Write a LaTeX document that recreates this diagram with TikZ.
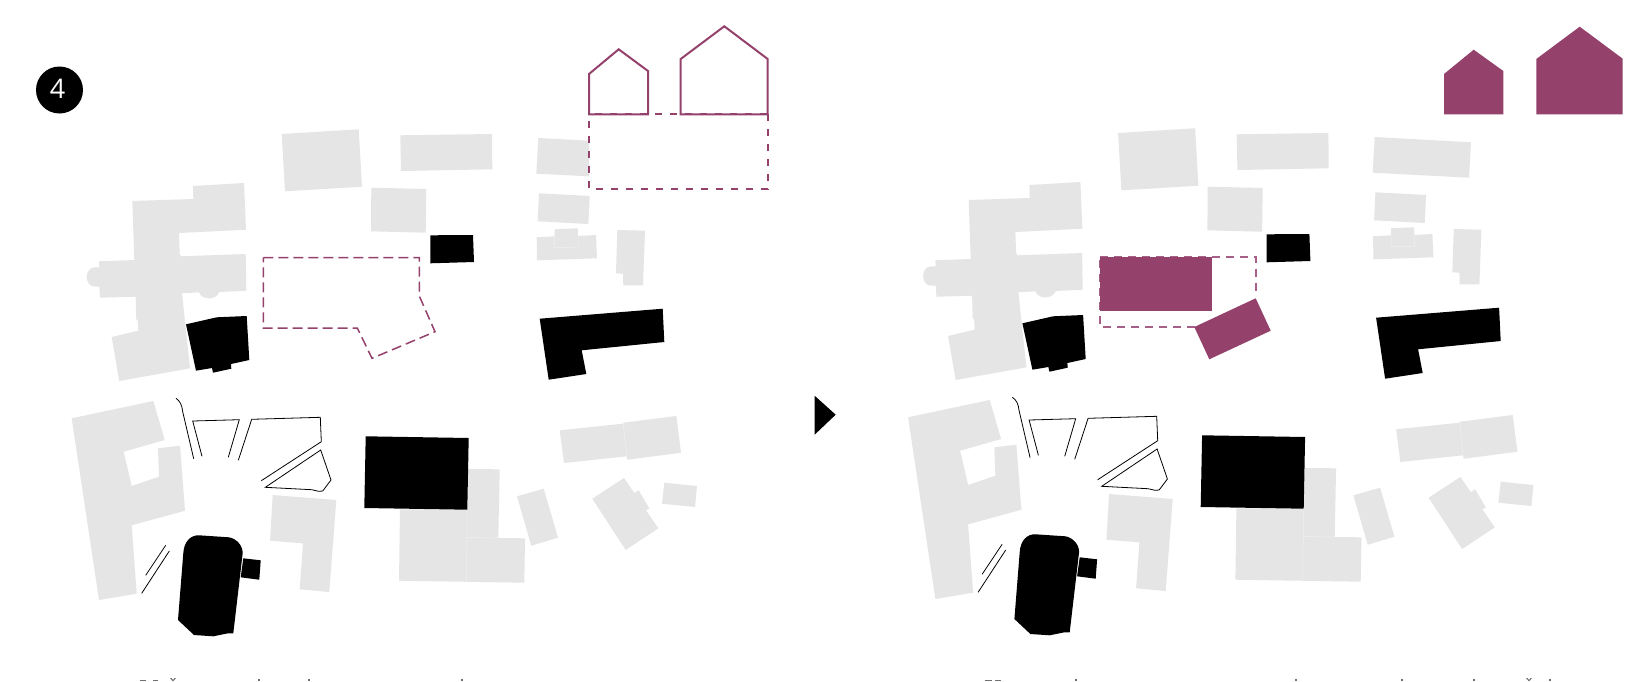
\documentclass[tikz,border=0pt]{standalone}
\usepackage{fontspec}
\setmainfont{Open Sans}
\definecolor{plum}{HTML}{94416C}
\definecolor{plumlight}{HTML}{A65F86}
\definecolor{bldggray}{HTML}{E5E5E5}
\definecolor{seamgray}{HTML}{F0F0F0}
\definecolor{frag}{HTML}{707070}
\tikzset{
  greybldg/.style={fill=bldggray,draw=none},
  blackbldg/.style={fill=black,draw=none},
  thinline/.style={draw=black,line width=0.8pt,line join=miter},
  seam/.style={draw=seamgray,line width=0.5pt},
  siteleft/.style={draw=plum,line width=1.5pt,dash pattern=on 10pt off 5pt},
  siteupper/.style={draw=plum,line width=2.1pt,dash pattern=on 7pt off 8pt},
  siteright/.style={draw=plumlight,line width=1.9pt,dash pattern=on 8pt off 6pt},
  houseline/.style={draw=plum,line width=2pt,line join=miter},
  plumfill/.style={fill=plum,draw=none},
  fragment/.style={fill=frag,draw=none}
}
% geometry common to both plans
\newcommand{\sharedplan}{%
  % upper row
  \path[greybldg] (281.7,134) -- (358.7,129.3) -- (362,186.7) -- (285,191.3) -- cycle;
  \path[greybldg] (400.3,135.3) -- (492,134) -- (492.3,169.3) -- (401,171) -- cycle;
  \path[greybldg] (371.3,187.7) -- (426.3,189) -- (425.7,232.7) -- (371,231.3) -- cycle;
  % large complex
  \path[greybldg] (193,186) -- (244,183) -- (246,229.7) -- (179,233) -- (179.7,254) -- (181,256.3)
    -- (245.7,254) -- (246.3,290.7) -- (219.3,292) .. controls (216,300.5) and (202,300.5) .. (199,292.3)
    -- (182,293.3) -- (190,368.3) -- (119.3,381) -- (111.7,337) -- (138.3,330.7) -- (137.7,320.3)
    -- (136.3,320) -- (135.7,296.7) -- (100,297.7) -- (99.3,286.7) -- (95,286.7)
    .. controls (90,286.7) and (86.7,282) .. (86.7,277) .. controls (86.7,272) and (90,267.3) .. (95,267.3)
    -- (99.3,267.3) -- (99,261.3) -- (134.3,260)
    -- (132.3,201) -- (193.3,199) -- cycle;
  % small row right
  \path[greybldg] (539,193.3) -- (589.7,196) -- (588.3,224) -- (537.7,221.3) -- cycle;
  \path[greybldg] (536.7,237.3) -- (554.7,236.3) -- (554.7,229.3) -- (577.7,228.3) -- (578,236)
    -- (596,235) -- (597,258.3) -- (537,260.3) -- cycle;
  \draw[seam] (554.7,236.3) -- (554.7,247.5) -- (578,247.2) -- (578,236);
  \path[greybldg] (617.3,230) -- (645,230.7) -- (643,285.3) -- (623.3,285.3) -- (623,273.7) -- (616,273.3) -- cycle;
  % lower-left wing
  \path[greybldg] (71.7,418.3) -- (153.3,401) -- (164.7,440) -- (123.7,451.7) -- (131.7,486)
    -- (159,476.7) -- (158,448.3) -- (180,445.7) -- (185,510.7) -- (131.7,525.3) -- (136.7,593.7) -- (99,600) -- cycle;
  \path[greybldg] (272.7,495) -- (336.3,500) -- (329.3,592) -- (299.7,589.3) -- (303,543.3) -- (270,540.7) -- cycle;
  % lower middle
  \path[greybldg] (468,469) -- (499.7,469.3) -- (498.3,538) -- (525,538.3) -- (524.3,582.7)
    -- (399,580.7) -- (400,509.3) -- (467.3,509.7) -- cycle;
  \draw[seam] (467.3,509.7) -- (466.3,582);
  \draw[seam] (467,537.5) -- (498.3,538);
  \path[greybldg] (517,496.3) -- (543.7,488.7) -- (558,537.7) -- (531.3,545.7) -- cycle;
  \path[greybldg] (559.7,430.3) -- (623,423.7) -- (623.6,422.7) -- (676.3,416) -- (681,452.7) -- (627.6,459.7) -- (626.3,456.3) -- (564,463) -- cycle;
  \draw[seam] (623.3,423.5) -- (626.8,457.5);
  \path[greybldg] (592.3,498.7) -- (624,478) -- (634.3,493) -- (638.7,490.3) -- (649.3,508.3)
    -- (646,510.3) -- (658.3,528.3) -- (625.7,550) -- cycle;
  \path[greybldg] (664.3,482.7) -- (697,486) -- (695,507) -- (662,503.7) -- cycle;
  % black buildings
  \path[blackbldg] (186,324.3) -- (216.7,317.3) -- (246.7,316) -- (249.3,360) -- (231,364) -- (231.3,368.7)
    -- (213,372.7) -- (212,368) -- (196,370.7) -- cycle;
  \path[blackbldg] (430.3,235.3) -- (473,235) -- (474,262) -- (430.3,263.3) -- cycle;
  \path[blackbldg] (539.7,318.7) -- (662.7,308.7) -- (664.3,342) -- (581.7,350.3) -- (586.3,374) -- (548.7,379.7) -- cycle;
  \path[blackbldg] (365.7,436.3) -- (468.7,438) -- (467.3,509.7) -- (364.3,508) -- cycle;
  \path[blackbldg] (183.3,553.3) .. controls (184,541) and (191,535) .. (199,535.3)
    -- (229,537.3) .. controls (236,538.5) and (242.7,545) .. (242.7,553)
    -- (233.3,633.3) -- (228,633.3) -- (213.3,636.3) -- (194,635) -- (178,620) -- cycle;
  \path[blackbldg] (243.3,558.3) -- (260.7,560.3) -- (259.3,579.7) -- (240.7,577.3) -- cycle;
  % outlines of the courtyard
  \draw[thinline] (176,398.3) .. controls (180,401) and (182,405) .. (182.7,411.7) -- (193.7,458.7);
  \draw[thinline] (202,456.3) -- (192.7,421) -- (239.3,419.7) -- (228.3,457.3);
  \draw[thinline] (238.3,460.3) -- (251.7,419.3) -- (320.3,417.3) -- (321.3,441.7) -- (261.3,480.7);
  \draw[thinline] (320.7,450) -- (331,480) -- (322.7,491) -- (318.7,491.3) -- (311.7,489.7) -- (265.3,487.3) -- cycle;
  \draw[thinline] (165.7,545.3) -- (145.7,575.3);
  \draw[thinline] (169.3,551) -- (141.7,593.3);
}
\begin{document}
\begin{tikzpicture}[x=1pt,y=-1pt]
\useasboundingbox (0,0) rectangle (1642,681);
\fill[white] (0,0) rectangle (1642,681);

% ---------- left plan
\sharedplan
\path[greybldg] (538.3,138) -- (589,140.7) -- (589,176.3) -- (536.3,173.7) -- cycle;
\draw[siteleft] (263.3,257.7) -- (419.3,257.7) -- (419.3,296) -- (435,331.7) -- (372,358.3) -- (357.3,328) -- (263.3,328) -- cycle;
\draw[siteupper,dash phase=9pt] (589,114.3) -- (767.7,114.3);
\draw[siteupper] (767.7,114.3) -- (767.7,189.3) -- (589,189.3) -- (589,114.3);
\draw[houseline] (589,114.3) -- (589,74) -- (618.7,49.3) -- (648,71) -- (648,114.3) -- cycle;
\draw[houseline] (680.7,114.3) -- (680.7,59) -- (724.3,26.3) -- (767.7,59) -- (767.7,114.3) -- cycle;

% badge
\node[circle,fill=black,minimum size=47pt,inner sep=0pt] (badge) at (59.5,90) {};
\node[text=white,font=\fontsize{27}{27}\selectfont,inner sep=0pt] (badgenum) at (57.5,88.5) {4};

% direction triangle
\path[blackbldg] (814.7,395.8) -- (835.7,414.7) -- (814.7,434.6) -- cycle;

% ---------- right plan
\begin{scope}[shift={(836.4,-1)}]
  \sharedplan
\end{scope}
\path[greybldg] (1374.7,137) -- (1471,142.3) -- (1469,177.7) -- (1372.7,172.7) -- cycle;
\draw[siteright] (1100,256.7) -- (1256,256.7) -- (1256,293);
\draw[siteright] (1195,326.7) -- (1100,326.7) -- (1100,256.7);
\path[plumfill] (1100,256.7) rectangle (1212,311);
\path[plumfill] (1194.3,327) -- (1255.7,298.3) -- (1270.7,330.7) -- (1209.3,359.3) -- cycle;
\path[plumfill] (1444,114.3) -- (1444,74) -- (1473.7,49.7) -- (1503.3,71) -- (1503.3,114.3) -- cycle;
\path[plumfill] (1536.3,114.3) -- (1536.3,59) -- (1579.7,26.7) -- (1622.7,58.7) -- (1622.7,114.3) -- cycle;

% ---------- tops of the cut-off caption lines
\path[fragment] (140,680) rectangle (146,681);
\path[fragment] (153,680) rectangle (158,681);
\path[fragment] (170,678) -- (171.5,678) -- (173,680) -- (174.5,678) -- (176,678) -- (173.5,681) -- (172.5,681) -- cycle;
\path[fragment] (257.5,678.5) rectangle (259.5,681);
\path[fragment] (307.5,678.5) rectangle (309.5,681);
\path[fragment] (460.5,678.5) rectangle (462.5,681);
\path[fragment] (985,680) rectangle (992,681);
\path[fragment] (995,680) rectangle (1001,681);
\path[fragment] (1074.5,678.5) rectangle (1076.5,681);
\path[fragment] (1294.5,678.5) rectangle (1296.5,681);
\path[fragment] (1400.5,678.5) rectangle (1402.5,681);
\path[fragment] (1472.5,678.5) rectangle (1474.5,681);
\path[fragment] (1526,678) -- (1527.5,678) -- (1529,680) -- (1530.5,678) -- (1532,678) -- (1529.5,681) -- (1528.5,681) -- cycle;
\path[fragment] (1548.5,678.5) rectangle (1550.5,681);
\end{tikzpicture}
\end{document}
